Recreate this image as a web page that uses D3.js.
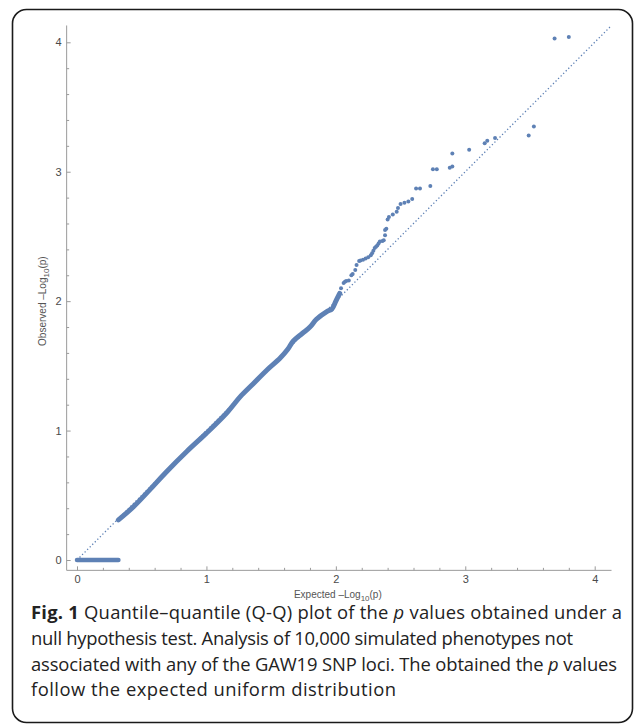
<!DOCTYPE html>
<html>
<head>
<meta charset="utf-8">
<script src="https://cdn.jsdelivr.net/npm/d3@7"></script>
<style>
  html, body { margin: 0; padding: 0; background: #fff; }
  svg { display: block; }
</style>
</head>
<body>
<div id="chart"></div>
<script>
// Q-Q plot, values

// reference line (expected = observed)
const refLine = [0, 4.12];

// p = 1 block, plotted at observed 0
const zeroExpected = [0, 0.32];
const zeroObserved = [0, 0];

// dense part of the curve (thousands of overlapping points)
const denseExpected = [0.32, 0.435, 0.56, 0.69, 0.85, 1.0, 1.16, 1.26, 1.36, 1.47,
    1.57, 1.63, 1.67, 1.74, 1.80, 1.85, 1.93, 1.97, 2.00, 2.03];
const denseObserved = [0.31, 0.41, 0.54, 0.68, 0.84, 0.98, 1.14, 1.26, 1.36, 1.47,
    1.56, 1.63, 1.69, 1.75, 1.80, 1.86, 1.92, 1.94, 2.00, 2.06];

// sparse upper tail, individual points
const tailExpected = [2.04, 2.06, 2.07, 2.08, 2.10, 2.12, 2.13, 2.15, 2.16, 2.18, 2.19, 2.21, 2.23,
    2.25, 2.27, 2.28, 2.29, 2.30, 2.31, 2.32, 2.33, 2.34, 2.36, 2.37, 2.38, 2.38, 2.39, 2.40, 2.41,
    2.44, 2.47, 2.48, 2.50, 2.53, 2.56, 2.59, 2.62, 2.65, 2.73, 2.75, 2.78, 2.88, 2.90, 2.90,
    3.03, 3.15, 3.17, 3.23, 3.49, 3.53, 3.69, 3.80];
const tailObserved = [2.10, 2.14, 2.15, 2.155, 2.16, 2.20, 2.21, 2.24, 2.28, 2.31, 2.315, 2.32, 2.33,
    2.34, 2.355, 2.37, 2.39, 2.41, 2.42, 2.43, 2.445, 2.46, 2.465, 2.47, 2.51, 2.55, 2.56, 2.63, 2.65,
    2.67, 2.69, 2.72, 2.75, 2.76, 2.77, 2.79, 2.87, 2.87, 2.89, 3.02, 3.02, 3.03, 3.04, 3.14,
    3.17, 3.22, 3.24, 3.26, 3.28, 3.35, 4.03, 4.04];

const majorTicks = [0, 1, 2, 3, 4];
const minorTicks = [0.2, 0.4, 0.6, 0.8, 1.2, 1.4, 1.6, 1.8, 2.2, 2.4, 2.6, 2.8, 3.2, 3.4, 3.6, 3.8];
const axisExtent = [-0.08, 4.13];

const captionLines = [
    [{ t: 'Fig. 1', b: true }, { t: ' Quantile\u2013quantile (Q-Q) plot of the ' }, { t: 'p', i: true }, { t: ' values obtained under a' }],
    [{ t: 'null hypothesis test. Analysis of 10,000 simulated phenotypes not' }],
    [{ t: 'associated with any of the GAW19 SNP loci. The obtained the ' }, { t: 'p', i: true }, { t: ' values' }],
    [{ t: 'follow the expected uniform distribution' }]
];
// set width of each caption line as it stands in the picture
const captionWidths = [591, 542, 586, 365];

const W = 636, H = 726;
const blue = '#5e81b5';
const axisGrey = '#9a9a9a';

const svg = d3.select('#chart').append('svg')
    .attr('width', W)
    .attr('height', H);

svg.append('rect').attr('width', W).attr('height', H).attr('fill', '#fff');

// rounded frame round the figure
svg.append('rect')
    .attr('x', 12.5).attr('y', 9.5)
    .attr('width', 620).attr('height', 713)
    .attr('rx', 14)
    .attr('fill', 'none')
    .attr('stroke', '#1a1a1a')
    .attr('stroke-width', 1.6);

const x = d3.scaleLinear().domain([0, 4]).range([77, 594.7]);
const y = d3.scaleLinear().domain([0, 4]).range([560, 42.3]);

const xAxisY = y(axisExtent[0]);
const yAxisX = x(axisExtent[0]);

// axes lines
svg.append('line')
    .attr('x1', x(axisExtent[0])).attr('x2', x(axisExtent[1]))
    .attr('y1', xAxisY).attr('y2', xAxisY)
    .attr('stroke', axisGrey).attr('stroke-width', 1);
svg.append('line')
    .attr('x1', yAxisX).attr('x2', yAxisX)
    .attr('y1', y(axisExtent[0])).attr('y2', y(axisExtent[1]))
    .attr('stroke', axisGrey).attr('stroke-width', 1);

function styleAxis(g) {
    g.select('.domain').remove();
    g.selectAll('.tick line').attr('stroke', axisGrey);
    g.selectAll('.tick text')
        .attr('fill', '#4a4a4a')
        .style('font-family', '"Liberation Sans", Arial, sans-serif')
        .style('font-size', '11px');
}

svg.append('g')
    .attr('transform', `translate(0,${xAxisY})`)
    .call(d3.axisBottom(x).tickValues(majorTicks).tickSizeInner(-4).tickSizeOuter(0).tickPadding(5).tickFormat(d3.format('d')))
    .call(styleAxis);
svg.append('g')
    .attr('transform', `translate(0,${xAxisY})`)
    .call(d3.axisBottom(x).tickValues(minorTicks).tickSizeInner(-2.5).tickSizeOuter(0).tickFormat(''))
    .call(styleAxis);

svg.append('g')
    .attr('transform', `translate(${yAxisX},0)`)
    .call(d3.axisLeft(y).tickValues(majorTicks).tickSizeInner(-4).tickSizeOuter(0).tickPadding(5).tickFormat(d3.format('d')))
    .call(styleAxis);
svg.append('g')
    .attr('transform', `translate(${yAxisX},0)`)
    .call(d3.axisLeft(y).tickValues(minorTicks).tickSizeInner(-2.5).tickSizeOuter(0).tickFormat(''))
    .call(styleAxis);

// axis titles with subscript 10
function axisTitle(sel, name) {
    sel.style('font-family', '"Liberation Sans", Arial, sans-serif')
        .style('font-size', '10px')
        .attr('fill', '#555')
        .attr('text-anchor', 'middle');
    sel.append('tspan').text(name + ' \u2013Log');
    sel.append('tspan').text('10').style('font-size', '8px').attr('dy', 3);
    sel.append('tspan').text('(p)').attr('dy', -3);
}

svg.append('text')
    .attr('x', x(2) + 2).attr('y', 598)
    .call(axisTitle, 'Expected');

svg.append('text')
    .attr('transform', `translate(46,${y(2)}) rotate(-90)`)
    .call(axisTitle, 'Observed');

// dotted reference diagonal
svg.append('line')
    .attr('x1', x(refLine[0])).attr('y1', y(refLine[0]))
    .attr('x2', x(refLine[1])).attr('y2', y(refLine[1]))
    .attr('stroke', blue)
    .attr('stroke-width', 1.3)
    .attr('stroke-dasharray', '1.3,2.3');

const line = d3.line().x(d => x(d[0])).y(d => y(d[1]));

svg.append('path')
    .datum(d3.zip(zeroExpected, zeroObserved))
    .attr('d', line)
    .attr('fill', 'none')
    .attr('stroke', blue)
    .attr('stroke-width', 4.5)
    .attr('stroke-linecap', 'round');

svg.append('path')
    .datum(d3.zip(denseExpected, denseObserved))
    .attr('d', line.curve(d3.curveCatmullRom))
    .attr('fill', 'none')
    .attr('stroke', blue)
    .attr('stroke-width', 5)
    .attr('stroke-linecap', 'round')
    .attr('stroke-linejoin', 'round');

svg.append('g')
    .selectAll('circle')
    .data(d3.zip(tailExpected, tailObserved))
    .join('circle')
    .attr('cx', d => x(d[0]))
    .attr('cy', d => y(d[1]))
    .attr('r', 2)
    .attr('fill', blue);

// caption
const cap = svg.append('g')
    .style('font-family', '"Open Sans", "Noto Sans", sans-serif')
    .style('font-size', '18.4px')
    .attr('fill', '#222');

captionLines.forEach((parts, i) => {
    const t = cap.append('text')
        .attr('x', 31).attr('y', 619 + i * 25.8)
        .attr('textLength', captionWidths[i])
        .attr('lengthAdjust', 'spacing');
    parts.forEach(p => {
        const s = t.append('tspan').text(p.t);
        if (p.b) s.style('font-weight', 'bold');
        if (p.i) s.style('font-style', 'italic');
    });
});
</script>
</body>
</html>
